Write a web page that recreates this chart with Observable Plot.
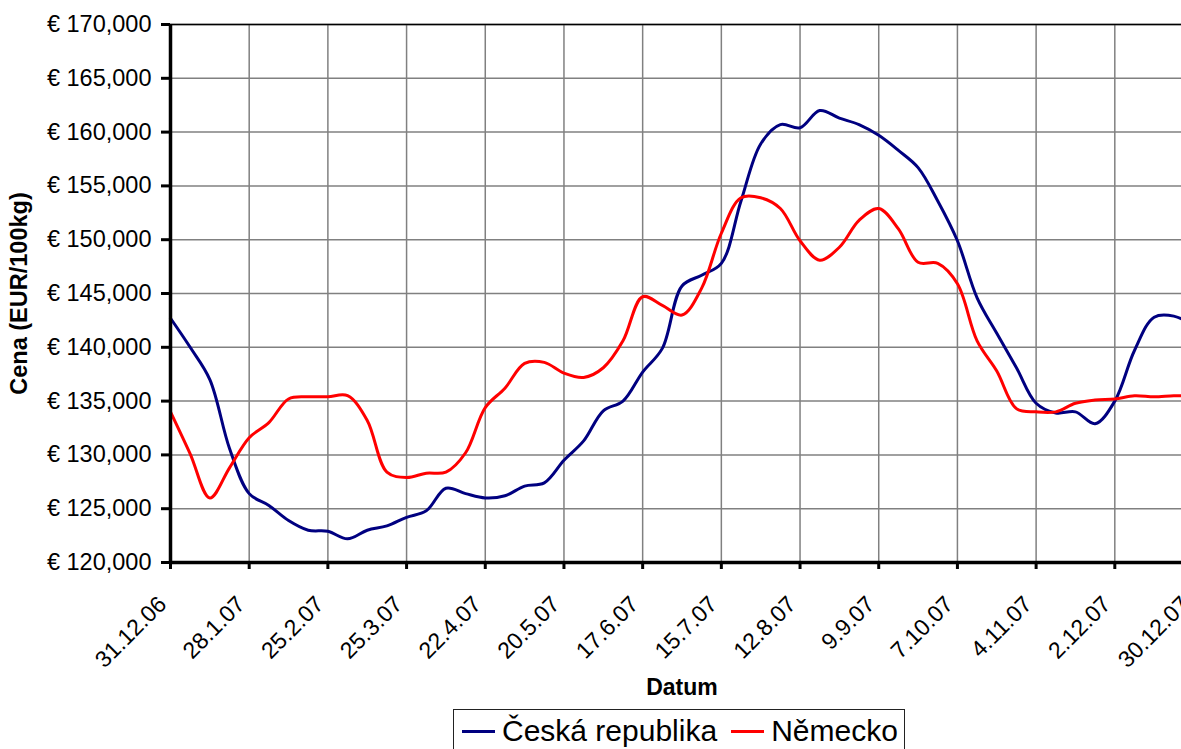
<!DOCTYPE html>
<html>
<head>
<meta charset="utf-8">
<script src="https://cdn.jsdelivr.net/npm/d3@7"></script>
<script src="https://cdn.jsdelivr.net/npm/@observablehq/plot@0.6"></script>
<style>
  html, body { margin: 0; padding: 0; background: #fff; overflow: hidden; }
  body { width: 1181px; height: 749px; font-family: "Liberation Sans", Arial, sans-serif; }
  #chart svg { display: block; overflow: visible; }
  #chart g[aria-label="x-axis label"] text, #chart g[aria-label="y-axis label"] text { font-weight: bold; }
  #legend {
    position: absolute; left: 453px; top: 709px; width: 452px; height: 48px;
    border: 1px solid #222; box-sizing: border-box; background: #fff;
    display: flex; align-items: flex-start; padding-top: 4px; padding-left: 8px;
    font-size: 30px; color: #000; white-space: nowrap;
  }
  .sw { display: inline-block; width: 33px; height: 3px; margin-right: 7px; }
  .item { display: inline-flex; align-items: center; margin-right: 14px; line-height: 34px; }
</style>
</head>
<body>
<div id="chart"></div>
<div id="legend"></div>
<script>
// Weekly dates (x categories)
const dates = [
  "2006-12-31","2007-01-07","2007-01-14","2007-01-21","2007-01-28","2007-02-04","2007-02-11","2007-02-18",
  "2007-02-25","2007-03-04","2007-03-11","2007-03-18","2007-03-25","2007-04-01","2007-04-08","2007-04-15",
  "2007-04-22","2007-04-29","2007-05-06","2007-05-13","2007-05-20","2007-05-27","2007-06-03","2007-06-10",
  "2007-06-17","2007-06-24","2007-07-01","2007-07-08","2007-07-15","2007-07-22","2007-07-29","2007-08-05",
  "2007-08-12","2007-08-19","2007-08-26","2007-09-02","2007-09-09","2007-09-16","2007-09-23","2007-09-30",
  "2007-10-07","2007-10-14","2007-10-21","2007-10-28","2007-11-04","2007-11-11","2007-11-18","2007-11-25",
  "2007-12-02","2007-12-09","2007-12-16","2007-12-23","2007-12-30"
];

// Česká republika (EUR/100kg)
const cz = [
  142700, 140000, 137000, 130600, 126400, 125300, 123900, 123000,
  122900, 122200, 123000, 123400, 124200, 124800, 126900, 126400,
  126000, 126200, 127100, 127400, 129500, 131300, 134100, 135000,
  137700, 139900, 145700, 146700, 147800, 153600, 158900, 160700,
  160400, 162000, 161300, 160700, 159700, 158300, 156700, 153600,
  149900, 144600, 141300, 138100, 134800, 133900, 134000, 132900,
  135000, 139700, 142800, 142900, 142000
];

// Německo (EUR/100kg)
const de = [
  134000, 130100, 126000, 128800, 131600, 133000, 135200, 135400,
  135400, 135500, 133200, 128400, 127900, 128300, 128400, 130200,
  134400, 136200, 138500, 138600, 137600, 137200, 138100, 140600,
  144700, 143900, 143000, 145500, 150600, 153900, 153900, 152900,
  149900, 148100, 149300, 151800, 152900, 151000, 147900, 147800,
  145900, 140600, 137800, 134300, 134000, 134000, 134800, 135100,
  135200, 135500, 135400, 135500, 135500
];

const seriesNames = ["Česká republika", "Německo"];
const seriesColors = ["#000080", "#ff0000"];
const xTitle = "Datum";
const yTitle = "Cena (EUR/100kg)";

const tickDates = ["2006-12-31","2007-01-28","2007-02-25","2007-03-25","2007-04-22","2007-05-20","2007-06-17",
  "2007-07-15","2007-08-12","2007-09-09","2007-10-07","2007-11-04","2007-12-02","2007-12-30"];
const tickLabels = ["31.12.06","28.1.07","25.2.07","25.3.07","22.4.07","20.5.07","17.6.07",
  "15.7.07","12.8.07","9.9.07","7.10.07","4.11.07","2.12.07","30.12.07"];
const yTicks = [120000,125000,130000,135000,140000,145000,150000,155000,160000,165000,170000];

const parse = d3.utcParse("%Y-%m-%d");
const rows = [];
dates.forEach((d, i) => {
  rows.push({date: parse(d), value: cz[i], series: seriesNames[0]});
  rows.push({date: parse(d), value: de[i], series: seriesNames[1]});
});
const tDates = tickDates.map(parse);
const labelOf = new Map(tDates.map((d, i) => [+d, tickLabels[i]]));
const fmtY = d => "€ " + d3.format(",")(d);

const font = "Liberation Sans, Arial, sans-serif";

const chart = Plot.plot({
  width: 1181,
  height: 705,
  marginLeft: 170,
  marginRight: -12,
  marginTop: 24,
  marginBottom: 143,
  style: {fontFamily: font, background: "white", overflow: "visible"},
  x: {type: "utc", domain: [tDates[0], tDates[tDates.length - 1]]},
  y: {domain: [120000, 170000]},
  color: {domain: seriesNames, range: seriesColors},
  marks: [
    Plot.gridX(tDates, {stroke: "#808080", strokeOpacity: 1, strokeWidth: 1.5}),
    Plot.gridY(yTicks, {stroke: "#808080", strokeOpacity: 1, strokeWidth: 1.5}),
    Plot.ruleY([170000], {stroke: "#000", strokeWidth: 1.5}),
    Plot.lineY(rows, {x: "date", y: "value", z: "series", stroke: "series", strokeWidth: 3, curve: "catmull-rom"}),
    Plot.ruleY([120000], {stroke: "#000", strokeWidth: 3.5}),
    Plot.ruleX([tDates[0]], {stroke: "#000", strokeWidth: 3.5}),
    // x tick marks (no text)
    Plot.axisX({ticks: tDates, tickFormat: () => "", tickSize: 7, strokeWidth: 3, stroke: "#000", label: null}),
    // x tick labels + title
    Plot.axisX({ticks: tDates, tickFormat: d => labelOf.get(+d), tickRotate: -45, tickSize: 0,
      tickPadding: 38, dx: -8, fontSize: 23, color: "#000",
      label: xTitle, labelAnchor: "center", labelArrow: "none", labelOffset: 132}),
    Plot.axisY({ticks: yTicks, tickFormat: fmtY, tickSize: 9, tickPadding: 10, fontSize: 23.5,
      strokeWidth: 3, color: "#000",
      label: yTitle, labelAnchor: "center", labelArrow: "none", labelOffset: 160})
  ]
});
document.getElementById("chart").appendChild(chart);

const legend = document.getElementById("legend");
seriesNames.forEach((name, i) => {
  const item = document.createElement("span");
  item.className = "item";
  const sw = document.createElement("span");
  sw.className = "sw";
  sw.style.background = seriesColors[i];
  item.appendChild(sw);
  item.appendChild(document.createTextNode(name));
  legend.appendChild(item);
});
</script>
</body>
</html>
